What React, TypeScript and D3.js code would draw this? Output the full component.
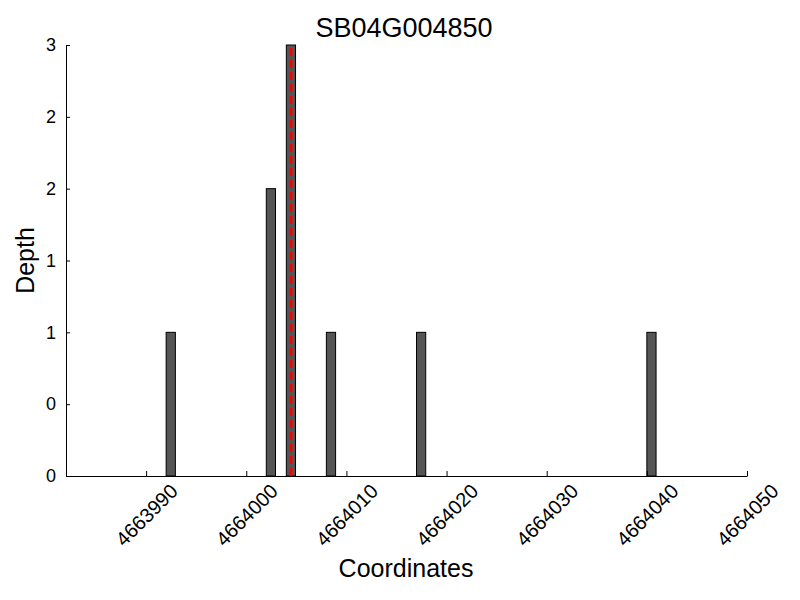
import React, { useRef, useEffect } from 'react';
import * as d3 from 'd3';

const title = 'SB04G004850';
const positions = [4663992, 4664002, 4664004, 4664008, 4664017, 4664040];
const depths = [1, 2, 3, 1, 1, 1];
const markerPos = 4664004;
const xTicks = [4663990, 4664000, 4664010, 4664020, 4664030, 4664040, 4664050];
const yTicks = [0, 0.5, 1, 1.5, 2, 2.5, 3];

const DepthChart = () => {
    const ref = useRef<SVGSVGElement | null>(null);

    useEffect(() => {
        if (ref.current) draw(ref.current);
    }, []);

    function draw(el: SVGSVGElement) {
        const svg = d3.select(el);
        svg.selectAll('*').remove();

        const margin = { top: 45, right: 53, bottom: 124, left: 66 };
        const width = 800 - margin.left - margin.right;
        const height = 600 - margin.top - margin.bottom;
        const font = 'Liberation Sans, Arial, sans-serif';

        const x = d3.scaleLinear().domain([4663982, 4664050]).range([0, width]);
        const y = d3.scaleLinear().domain([0, 3]).range([height, 0]);
        const barW = 0.92;

        const g = svg.append('g')
            .attr('transform', 'translate(' + margin.left + ',' + margin.top + ')');

        // bars
        g.selectAll('.bar')
            .data(positions)
            .enter().append('rect')
            .attr('class', 'bar')
            .attr('x', d => x(d))
            .attr('y', (d, i) => y(depths[i]))
            .attr('width', d => x(d + barW) - x(d))
            .attr('height', (d, i) => height - y(depths[i]))
            .style('fill', '#555555')
            .style('stroke', '#000')
            .style('stroke-width', 1);

        // marker line
        g.append('line')
            .attr('x1', x(markerPos + barW / 2))
            .attr('x2', x(markerPos + barW / 2))
            .attr('y1', y(0))
            .attr('y2', y(3))
            .style('stroke', '#ff0000')
            .style('stroke-width', 3)
            .style('stroke-dasharray', '8,4');

        // axes
        const xAxis = d3.axisBottom(x)
            .tickValues(xTicks)
            .tickSizeInner(-5)
            .tickSizeOuter(0)
            .tickFormat(d3.format('d'));

        const yAxis = d3.axisLeft(y)
            .tickValues(yTicks)
            .tickSizeInner(-4)
            .tickSizeOuter(0)
            .tickFormat(d => String(Math.floor(+d)));

        const gx = g.append('g')
            .attr('transform', 'translate(0,' + height + ')')
            .call(xAxis);
        gx.select('.domain').style('stroke', '#000');
        gx.selectAll('.tick line').style('stroke', '#000');
        gx.selectAll('.tick text')
            .attr('y', 0)
            .attr('dy', '0.35em')
            .attr('transform', 'translate(0,39) rotate(-45)')
            .style('text-anchor', 'middle')
            .style('font-family', font)
            .style('font-size', '20px')
            .style('fill', '#000');

        const gy = g.append('g').call(yAxis);
        gy.select('.domain').style('stroke', '#000');
        gy.selectAll('.tick line').style('stroke', '#000');
        gy.selectAll('.tick text')
            .attr('x', -10)
            .style('font-family', font)
            .style('font-size', '18px')
            .style('fill', '#000');

        // labels
        svg.append('text')
            .attr('x', 404)
            .attr('y', 37)
            .style('text-anchor', 'middle')
            .style('font-family', font)
            .style('font-size', '27px')
            .text(title);

        svg.append('text')
            .attr('x', 406)
            .attr('y', 577)
            .style('text-anchor', 'middle')
            .style('font-family', font)
            .style('font-size', '25px')
            .text('Coordinates');

        svg.append('text')
            .attr('transform', 'translate(34,' + (margin.top + height / 2) + ') rotate(-90)')
            .style('text-anchor', 'middle')
            .style('font-family', font)
            .style('font-size', '25px')
            .text('Depth');
    }

    return <svg ref={ref} width={800} height={600} style={{ display: 'block' }} />;
};

export default function App() {
    return (
        <div style={{ margin: -8 }}>
            <DepthChart />
        </div>
    );
}
